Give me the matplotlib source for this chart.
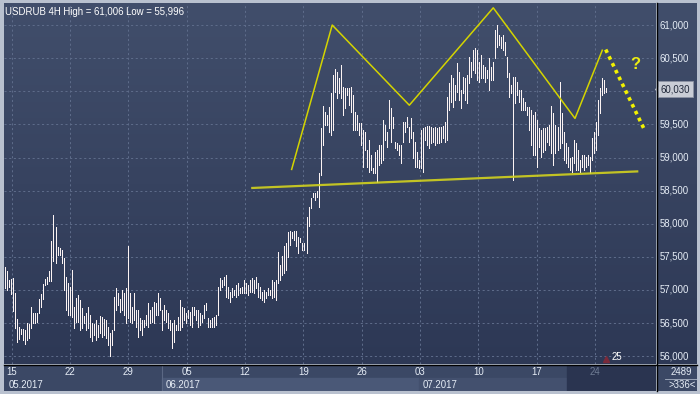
import numpy as np
import matplotlib
matplotlib.use('Agg')
import matplotlib.pyplot as plt
from matplotlib.colors import LinearSegmentedColormap

# 4H bars, high / low (RUB) left to right
highs = [
    57.35, 57.29, 57.15, 57.17, 57.18, 56.95, 56.56, 56.44, 56.41, 56.41,
    56.40, 56.50, 56.49, 56.74, 56.65, 56.65, 56.65, 56.86, 56.94, 57.09,
    57.17, 57.20, 57.29, 57.74, 58.13, 57.95, 57.65, 57.63, 57.60, 57.48,
    57.20, 57.10, 57.04, 57.30, 56.74, 56.88, 56.92, 56.85, 56.73, 56.61,
    56.65, 56.74, 56.62, 56.50, 56.49, 56.55, 56.47, 56.61, 56.59, 56.56,
    56.55, 56.44, 56.35, 56.40, 56.89, 57.03, 56.95, 56.86,
    # June
    57.00, 56.95, 57.03, 57.66, 56.95, 56.74, 56.95, 56.70, 56.70, 56.58,
    56.55, 56.55, 56.62, 56.80, 56.70, 56.74, 56.82, 56.80, 56.95, 56.88,
    56.70, 56.77, 56.70, 56.65, 56.55, 56.50, 56.55, 56.47, 56.59, 56.85,
    56.74, 56.73, 56.65, 56.70, 56.67, 56.74, 56.74, 56.70, 56.70, 56.65,
    56.62, 56.77, 56.80, 56.58, 56.55, 56.58, 56.59, 56.62, 57.04, 57.18,
    57.15, 57.20, 57.23, 57.04, 56.97, 57.03, 57.00, 57.07, 57.10, 57.03,
    57.04, 57.15, 57.10, 57.07, 57.15, 57.18, 57.15, 57.20, 57.10, 57.04,
    56.97, 57.00, 56.97, 57.03, 57.00, 57.15, 57.12, 57.15,
    57.57, 57.38, 57.51, 57.66, 57.71, 57.88, 57.89, 57.88, 57.89, 57.89,
    57.80, 57.78, 57.71, 57.71, 58.10, 58.25, 58.39, 58.46, 58.46, 58.49,
    58.77,
    # breakout and left shoulder
    59.45, 59.78, 59.69, 59.64, 59.76, 59.97, 60.25, 60.34, 60.29, 60.20,
    60.40, 60.06, 60.05, 60.05, 60.05, 60.06, 59.94, 59.69, 59.64, 59.52,
    59.52, 59.41, 59.39, 59.11, 59.26, 59.04, 58.84, 59.08, 59.11, 59.19,
    59.19, 59.57, 59.49, 59.39, 59.87, 59.75, 59.61, 59.23, 59.22, 59.19,
    59.19, 59.54, 59.54, 59.61, 59.46, 59.60, 59.39, 59.23, 59.08, 58.96,
    # July, head
    59.41, 59.45, 59.46, 59.48, 59.48, 59.46, 59.45, 59.46, 59.45, 59.46,
    59.46, 59.48, 59.54, 59.91, 60.12, 60.25, 60.20, 60.09, 60.43, 60.29,
    60.02, 60.22, 60.20, 60.25, 60.52, 60.44, 60.62, 60.65, 60.62, 60.44,
    60.55, 60.40, 60.37, 60.32, 60.50, 60.37, 60.44, 60.92, 61.006, 60.85,
    60.82, 60.85, 60.74, 60.52, 60.28, 60.09, 60.22, 60.22, 60.14, 60.02,
    60.02, 59.90, 59.84, 59.76, 59.76, 59.72, 59.64, 59.69, 59.57, 59.45,
    59.41, 59.45, 59.45, 59.46, 59.49, 59.78, 59.67, 59.49, 59.46, 60.14,
    59.67,
    # right shoulder
    59.39, 59.22, 59.16, 58.99, 59.01, 59.26, 59.22, 59.11, 58.96, 59.04,
    59.04, 59.01, 59.04, 59.01, 59.29, 59.39, 59.54, 59.87, 60.05, 60.20,
    60.17, 60.05,
]
lows = [
    57.03, 57.00, 57.04, 56.94, 56.68, 56.43, 56.21, 56.26, 56.33, 56.24,
    56.18, 56.24, 56.27, 56.43, 56.50, 56.50, 56.52, 56.65, 56.74, 56.86,
    57.07, 57.09, 57.14, 57.14, 57.44, 57.41, 57.53, 57.53, 57.41, 57.00,
    56.70, 56.62, 56.62, 56.59, 56.43, 56.52, 56.52, 56.40, 56.43, 56.50,
    56.40, 56.43, 56.29, 56.23, 56.32, 56.24, 56.29, 56.35, 56.29, 56.32,
    56.27, 56.17, 55.996, 56.17, 56.40, 56.70, 56.77, 56.67,
    56.70, 56.62, 56.50, 56.58, 56.52, 56.50, 56.55, 56.44, 56.29, 56.39,
    56.32, 56.44, 56.47, 56.44, 56.50, 56.52, 56.50, 56.62, 56.62, 56.70,
    56.39, 56.55, 56.52, 56.43, 56.40, 56.12, 56.21, 56.39, 56.40, 56.40,
    56.44, 56.55, 56.50, 56.58, 56.47, 56.44, 56.62, 56.55, 56.44, 56.47,
    56.52, 56.58, 56.70, 56.44, 56.44, 56.44, 56.44, 56.47, 56.62, 57.00,
    57.04, 57.07, 56.89, 56.88, 56.82, 56.89, 56.92, 56.89, 56.92, 56.95,
    56.95, 56.95, 56.95, 56.92, 56.97, 56.97, 56.95, 57.03, 56.89, 56.88,
    56.85, 56.82, 56.88, 56.92, 56.92, 56.88, 56.89, 56.85,
    57.10, 57.15, 57.23, 57.26, 57.30, 57.50, 57.68, 57.78, 57.75, 57.66,
    57.56, 57.72, 57.60, 57.60, 57.56, 57.96, 58.24, 58.40, 58.36, 58.40,
    58.25,
    58.74, 59.19, 59.49, 59.49, 59.39, 59.34, 59.41, 59.99, 59.90, 59.97,
    59.90, 59.64, 59.75, 59.94, 59.79, 59.69, 59.41, 59.41, 59.41, 59.34,
    59.19, 58.86, 59.11, 58.86, 58.78, 58.81, 58.77, 58.77, 58.63, 58.89,
    58.92, 58.96, 59.26, 59.16, 59.45, 59.23, 59.45, 59.14, 59.11, 59.04,
    58.92, 59.23, 59.39, 59.46, 59.23, 59.29, 58.99, 58.86, 58.86, 58.84,
    58.84, 58.78, 59.26, 59.19, 59.14, 59.22, 59.23, 59.19, 59.22, 59.22,
    59.23, 59.29, 59.23, 59.26, 59.72, 59.84, 59.76, 59.87, 59.99, 59.87,
    59.75, 59.97, 59.87, 59.82, 60.12, 60.22, 60.32, 60.28, 60.17, 60.14,
    60.20, 60.20, 60.14, 60.20, 60.02, 60.17, 60.17, 60.50, 60.67, 60.70,
    60.65, 60.62, 60.55, 60.22, 59.91, 59.97, 58.66, 59.82, 59.94, 59.84,
    59.72, 59.72, 59.72, 59.64, 59.41, 59.19, 59.04, 59.04, 58.86, 59.16,
    59.01, 59.08, 59.11, 59.23, 59.19, 59.07, 58.89, 59.07, 59.11, 59.14,
    59.22,
    58.96, 58.92, 58.86, 58.81, 58.78, 58.92, 58.81, 58.81, 58.78, 58.86,
    58.81, 58.86, 58.89, 58.77, 58.96, 59.07, 59.11, 59.34, 59.67, 59.94,
    59.97, 59.99,
]
last_close = 60.030

# head & shoulders drawing (bar index, price)
hs_x = [142.6, 162.8, 201.2, 243.0, 283.7, 297.3]
hs_y = [58.82, 61.00, 59.79, 61.26, 59.59, 60.62]
neck_x = [123.0, 314.7]
neck_y = [58.54, 58.79]
proj_x = [299.0, 318.6]
proj_y = [60.63, 59.40]

price_ticks = [56.0, 56.5, 57.0, 57.5, 58.0, 58.5, 59.0, 59.5, 60.0, 60.5, 61.0]
week_labels = ['15', '22', '29', '05', '12', '19', '26', '03', '10', '17', '24']
month_labels = ['05.2017', '06.2017', '07.2017']

n = len(highs)
assert n == len(lows)
idx = np.arange(n)

# pixel geometry of the terminal window (700x394)
W, H = 700, 394
step = 600.4 / (n - 1)          # px per bar
def bx(px):
    return (px - 5.3) / step
week_pos = [bx(11.7 + 58.33 * k) for k in range(len(week_labels))]
y_lo, y_hi = 55.882, 61.333

def fmt(v, nd=3):
    return f"{v:.{nd}f}".replace('.', ',')

plt.rcParams['font.family'] = ['Liberation Sans', 'DejaVu Sans']
FS = 6.9
TXT = '#e6edf6'
fig = plt.figure(figsize=(W / 100, H / 100), dpi=100)
fig.patch.set_facecolor('#b9c1cf')

def axes_px(x0, y0, x1, y1):
    return fig.add_axes([x0 / W, 1 - y1 / H, (x1 - x0) / W, (y1 - y0) / H])

grad = LinearSegmentedColormap.from_list('bg', ['#2d3855', '#414e6b'])
gimg = np.linspace(0, 1, 256).reshape(-1, 1)

ax = axes_px(4, 3, 656, 364)
ax.imshow(gimg, cmap=grad, origin='lower', aspect='auto', extent=[0, 1, 0, 1],
          transform=ax.transAxes, zorder=0)
ax.set_xlim(bx(4), bx(656))
ax.set_ylim(y_lo, y_hi)
ax.axis('off')

grid_kw = dict(color='#5d6b89', lw=0.75, linestyle=(0, (2, 2.5)), zorder=1)
for p in price_ticks:
    ax.axhline(p, **grid_kw)
for w in week_pos:
    ax.axvline(w, **grid_kw)

ax.vlines(idx, lows, highs, color='#fbf3f3', lw=0.72, antialiased=False, zorder=3)

ax.plot(neck_x, neck_y, color='#d2d21e', lw=1.6, alpha=0.9, zorder=4)
ax.plot(hs_x, hs_y, color='#d4d400', lw=1.1, zorder=4)
ax.plot(proj_x, proj_y, color='#f2f200', lw=2.6, linestyle=(0, (1, 1.1)), zorder=4)
ax.text(313.6, 60.40, '?', color='#eeee10', fontsize=12, fontweight='bold',
        ha='center', va='center', zorder=5)

ax.text(0.002, 0.988, 'USDRUB 4H High = ' + fmt(max(highs)) + ' Low = ' + fmt(min(lows)),
        transform=ax.transAxes, color='white', fontsize=FS, ha='left', va='top', zorder=6)

# current bar marker
ax.plot([bx(606)], [y_lo + 0.08], marker='^', ms=4, color='#7a2a3a', zorder=5)
ax.text(bx(612), y_lo + 0.03, '25', color='white', fontsize=FS, ha='left', va='bottom', zorder=6)

# price scale
axr = axes_px(657, 3, 697, 364)
axr.imshow(gimg, cmap=grad, origin='lower', aspect='auto', extent=[0, 1, 0, 1],
           transform=axr.transAxes, zorder=0)
axr.set_xlim(0, 1)
axr.set_ylim(y_lo, y_hi)
axr.axis('off')
for p in price_ticks:
    if abs(p - last_close) > 0.2:
        axr.text(0.06, p, fmt(p), color=TXT, fontsize=FS, ha='left', va='center')
axr.annotate(fmt(last_close), xy=(0.0, last_close), xytext=(0.09, last_close),
             color='#1e2638', fontsize=FS, ha='left', va='center',
             bbox=dict(boxstyle='square,pad=0.3', fc='#c9cdd6', ec='#8c93a3', lw=0.6))
axr.plot([0.02], [last_close], marker='<', ms=4, color='#c9cdd6', clip_on=False)

# date scale
axb = axes_px(4, 365, 656, 391)
axb.set_xlim(bx(4), bx(656))
axb.set_ylim(0, 1)
axb.axis('off')
axb.axvspan(bx(4), bx(656), color='#3b4865', zorder=0)
axb.axvspan(bx(162), bx(419), ymax=0.5, color='#4a5877', zorder=0)
axb.axvspan(bx(419), bx(567), ymax=0.5, color='#43506e', zorder=0)
axb.axvspan(bx(567), bx(656), color='#2a3450', zorder=1)
axb.axvline(bx(162), color='#5b6884', lw=0.8, zorder=2)
for w, lab in zip(week_pos, week_labels):
    c = '#6f7c94' if lab == '24' else TXT
    axb.text(w, 0.72, lab, color=c, fontsize=FS, ha='center', va='center', zorder=3)
for px, lab in zip([9, 166, 423], month_labels):
    axb.text(bx(px), 0.24, lab, color=TXT, fontsize=FS, ha='left', va='center', zorder=3)

axc = axes_px(657, 365, 697, 391)
axc.set_xlim(0, 1)
axc.set_ylim(0, 1)
axc.axis('off')
axc.axvspan(0, 1, color='#3b4865')
axc.text(0.62, 0.72, '2489', color=TXT, fontsize=FS, ha='center', va='center')
axc.plot([0.2, 1.0], [0.48, 0.48], color='#aab3c4', lw=0.6)
axc.text(0.62, 0.24, '>336<', color=TXT, fontsize=FS, ha='center', va='center')

# black separators
fig.add_artist(plt.Line2D([656.5 / W, 656.5 / W], [1 - 391 / H, 1 - 3 / H], color='black', lw=1.0))
fig.add_artist(plt.Line2D([4 / W, 697 / W], [1 - 364.5 / H, 1 - 364.5 / H], color='black', lw=1.0))

fig.savefig('out.png', dpi=100, facecolor=fig.get_facecolor())
